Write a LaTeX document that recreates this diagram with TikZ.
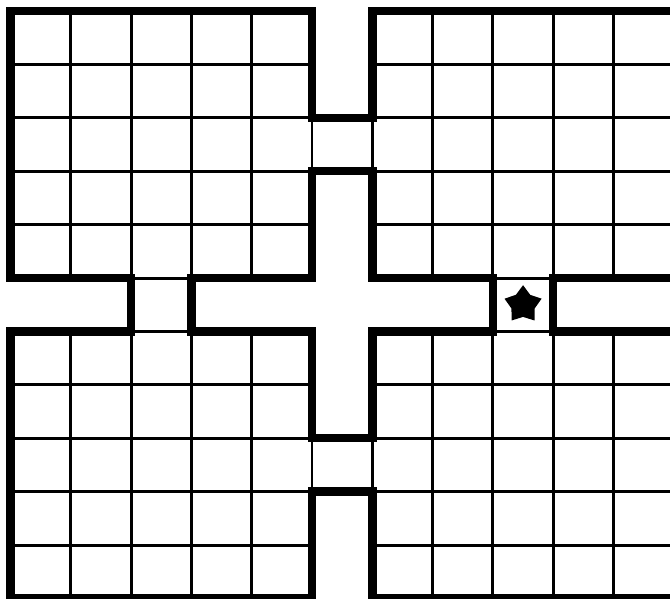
\documentclass[tikz,border=0pt]{standalone}
\usepackage{tikz}
\usetikzlibrary{shapes.geometric}

\tikzset{
  cellline/.style={line width=1.7pt, black},
  wallline/.style={line width=4.8pt, black, line join=miter},
  goalstar/.style={star, star points=5, star point ratio=1.6, fill=black,
    inner sep=0pt, minimum size=0.78cm}
}

\begin{document}
\begin{tikzpicture}[x=1.206cm, y=-1.068cm]
  \clip (-0.1741,-0.206) rectangle (10.937,10.993);
  \fill[white] (-0.1741,-0.206) rectangle (10.937,10.993);
  % Room cells
  \foreach \x in {0,...,11}
    \draw[cellline] (\x,0) -- (\x,5) (\x,6) -- (\x,11);
  \foreach \y in {0,...,11}
    \draw[cellline] (0,\y) -- (5,\y) (6,\y) -- (11,\y);
  % Doorway cells
  \draw[cellline] (5,2) rectangle (6,3);
  \draw[cellline] (5,8) rectangle (6,9);
  % Outer walls
  \draw[wallline] (0,0) -- (5,0) -- (5,2) -- (6,2) -- (6,0) -- (11,0)
    -- (11,5) -- (9,5) -- (9,6) -- (11,6) -- (11,11) -- (6,11) -- (6,9)
    -- (5,9) -- (5,11) -- (0,11) -- (0,6) -- (2,6) -- (2,5) -- (0,5) -- cycle;
  % Inner walls
  \draw[wallline] (5,3) -- (6,3) -- (6,5) -- (8,5) -- (8,6) -- (6,6) -- (6,8)
    -- (5,8) -- (5,6) -- (3,6) -- (3,5) -- (5,5) -- cycle;
  % Goal
  \node[goalstar] (goal) at (8.5,5.5) {};
\end{tikzpicture}
\end{document}
